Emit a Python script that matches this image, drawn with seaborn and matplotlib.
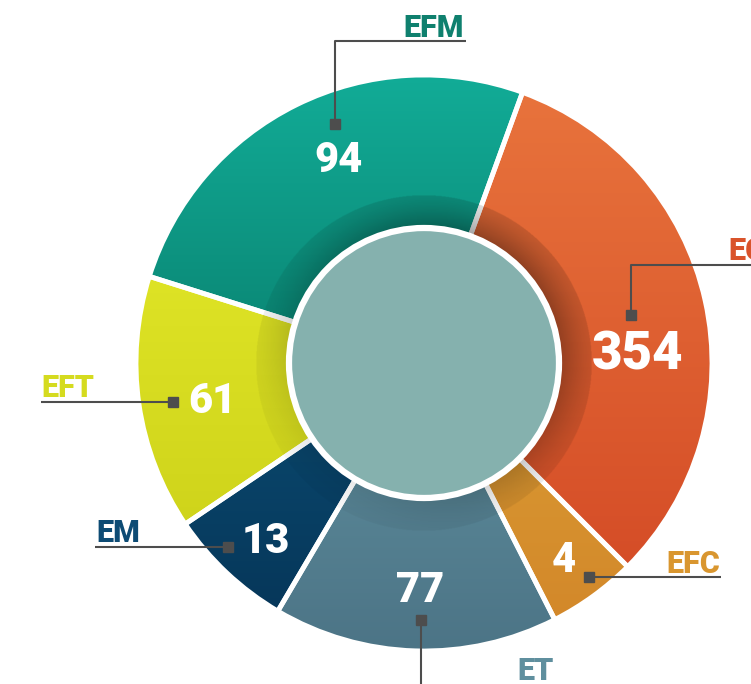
import numpy as np
import seaborn as sns
import matplotlib.pyplot as plt
from matplotlib.colors import LinearSegmentedColormap
from matplotlib.patches import Circle

# data, clockwise from the top-right boundary
categories = ['EC', 'EFC', 'ET', 'EM', 'EFT', 'EFM']
values = [354, 4, 77, 13, 61, 94]
# segment sizes are not proportional to the values in the picture, read off in degrees
spans = [115, 18, 57.5, 25.5, 51.5, 92.5]

top_colors = ['#e8733c', '#da9c34', '#60909f', '#0b4b71', '#dee325', '#12ac97']
bottom_colors = ['#d54d27', '#d3882a', '#4c7486', '#06375a', '#cfd41b', '#0a8472']
label_colors = ['#d9532b', '#d9962f', '#5f8f9e', '#0d4b74', '#d5db1f', '#0f806e']

sns.set_theme(style='white')
plt.rcParams['font.family'] = ['Roboto', 'DejaVu Sans']

W, H = 751, 684
fig = plt.figure(figsize=(W / 100, H / 100), dpi=100)
ax = fig.add_axes([0, 0, 1, 1])


def px(x, y):
    # picture pixel (y down) -> data coords (y up)
    return x, H - y


cx, cy = px(424, 363)
R = 288

wedges, _ = ax.pie(spans, colors=top_colors, radius=R, center=(cx, cy), startangle=70,
                   counterclock=False, frame=True, wedgeprops=dict(linewidth=0))

# vertical gradient in every segment
grad = np.linspace(0, 1, 256).reshape(-1, 1)
for w, c0, c1 in zip(wedges, top_colors, bottom_colors):
    b = w.get_path().get_extents()
    cmap = LinearSegmentedColormap.from_list('g', [c1, c0])
    im = ax.imshow(grad, cmap=cmap, extent=[b.x0, b.x1, b.y0, b.y1], origin='lower',
                   aspect='auto', interpolation='bilinear', zorder=2)
    im.set_clip_path(w)

# white gaps between segments
ax.pie(spans, radius=R, center=(cx, cy), startangle=70, counterclock=False, frame=True,
       wedgeprops=dict(fill=False, edgecolor='white', linewidth=3.5, zorder=3))

# inner shadow ring, stronger towards the top right
n = 700
xs = np.linspace(cx - 172, cx + 172, n)
X, Y = np.meshgrid(xs, xs - cx + cy)
r = np.hypot(X - cx, Y - cy)
phi = np.arctan2(Y - cy, X - cx)
t = np.clip((r - 138) / 30, 0, 1)
f = 0.62 + 0.38 * np.cos(phi - np.radians(50))
shade = np.zeros((n, n, 4))
shade[..., 3] = np.where(r <= 168, (0.14 + 0.22 * (1 - t) ** 1.3) * f, 0)
ax.imshow(shade, extent=[cx - 172, cx + 172, cy - 172, cy + 172], origin='lower',
          interpolation='bilinear', aspect='auto', zorder=4)

ax.add_patch(Circle((cx, cy), 135, facecolor='#85b1ae', edgecolor='white', linewidth=4.5, zorder=5))

# value labels (centre x, baseline) and category labels (x, baseline, ha)
value_pos = {'EC': (638, 370), 'EFC': (564, 572), 'ET': (420.5, 602),
             'EM': (266, 553), 'EFT': (212.5, 413), 'EFM': (339, 172)}
value_size = {'EC': 38}
label_pos = {'EC': (728, 260, 'left'), 'EFC': (720, 573, 'right'), 'ET': (517, 680, 'left'),
             'EM': (96, 542, 'left'), 'EFT': (41, 397, 'left'), 'EFM': (434, 37, 'center')}
leaders = {'EC': [(751, 265), (631, 265), (631, 314.5)],
           'EFC': [(721, 577), (588.5, 577)],
           'ET': [(420.5, 684), (420.5, 620)],
           'EM': [(95, 547), (228, 547)],
           'EFT': [(41, 402), (173, 402)],
           'EFM': [(466, 41), (335, 41), (335, 123.5)]}

for cat, val, col in zip(categories, values, label_colors):
    x, y = px(*value_pos[cat])
    ax.text(x, y, str(val), color='white', fontsize=value_size.get(cat, 30), fontweight='black',
            ha='center', va='baseline', zorder=7)
    lx, ly, ha = label_pos[cat]
    lx, ly = px(lx, ly)
    ax.text(lx, ly, cat, color=col, fontsize=22, fontweight='black', ha=ha, va='baseline', zorder=7)
    pts = [px(a, b) for a, b in leaders[cat]]
    ax.plot([p[0] for p in pts], [p[1] for p in pts], color='#4d4d4d', lw=1.5, zorder=6,
            solid_capstyle='butt')
    ax.plot(pts[-1][0], pts[-1][1], marker='s', ms=6.5, color='#4d4d4d', zorder=6)

ax.set_xlim(0, W)
ax.set_ylim(0, H)
ax.set_aspect('auto')
ax.axis('off')

plt.savefig('out.png', dpi=100)
